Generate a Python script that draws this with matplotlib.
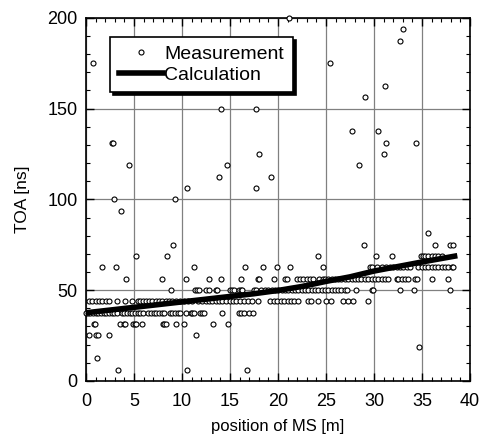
import matplotlib
matplotlib.use("Agg")
import matplotlib.pyplot as plt
import numpy as np

plt.rcParams['font.family'] = ['Liberation Sans', 'DejaVu Sans']

# measured TOA, grouped by level (ns) -> positions (m)
levels = {
    6.25: [3.36, 10.5, 16.8],
    12.5: [1.15],
    18.75: [34.7],
    25.0: [0.3, 1.0, 1.3, 2.4, 11.5],
    31.25: [0.85, 0.95, 3.5, 4.0, 4.1, 4.9, 5.1, 5.25, 5.8, 8.0, 8.15, 8.35,
            9.4, 10.2, 13.2, 14.75],
    37.5: [0.0, 0.17, 0.45, 0.73, 1.01, 1.28, 1.56, 1.84, 2.12, 2.4, 2.67, 2.95,
           3.23, 3.72, 4.01, 4.27, 4.55, 4.83, 5.1, 5.38, 5.66, 5.94, 6.49, 6.77,
           7.05, 7.33, 7.6, 7.88, 8.16, 8.72, 8.99, 9.27, 9.55, 9.83, 10.38,
           10.94, 11.08, 11.22, 11.84, 12.05, 12.26, 14.2, 15.94, 16.2, 16.49,
           16.98, 17.4],
    43.75: [0.31, 0.66, 1.01, 1.35, 1.7, 2.05, 2.4, 3.23, 4.06, 4.76, 5.38, 5.63,
            5.9, 6.25, 6.6, 6.91, 7.26, 7.6, 7.95, 8.3, 8.65, 8.99, 9.41, 9.83,
            10.24, 10.66, 11.08, 11.63, 12.05, 12.47, 12.81, 13.16, 13.51, 13.85,
            14.2, 14.55, 14.97, 15.31, 15.66, 16.08, 16.49, 16.91, 17.26, 17.95,
            19.2, 19.55, 19.9, 20.31, 20.66, 21.01, 21.35, 21.7, 22.05, 23.09,
            23.44, 24.13, 25.0, 25.49, 26.74, 27.26, 27.78, 29.41],
    50.0: [8.9, 11.4, 11.6, 11.8, 12.5, 12.8, 13.5, 13.7, 15.0, 15.2, 15.4, 15.9,
           16.1, 16.3, 17.5, 17.7, 18.2, 18.6, 19.0, 19.34, 19.69, 20.03, 20.38,
           20.73, 21.07, 21.42, 21.77, 22.1, 22.46, 22.8, 23.16, 23.5, 23.85,
           24.2, 24.55, 24.9, 25.24, 25.6, 25.9, 26.3, 26.6, 27.0, 27.2, 28.1,
           29.75, 29.9, 32.7, 34.2, 37.95],
    56.25: [4.2, 7.95, 10.45, 12.8, 14.1, 16.15, 17.9, 18.0, 19.6, 20.73, 20.9,
            21.94, 22.29, 22.6, 23.0, 23.3, 23.61, 24.3, 24.65, 24.9, 25.24,
            25.59, 25.94, 26.3, 26.6, 26.98, 27.3, 27.67, 28.0, 28.37, 28.7,
            29.06, 29.4, 29.75, 30.1, 30.45, 30.8, 31.15, 31.49, 32.4, 32.5,
            32.9, 33.2, 33.58, 34.3, 34.44, 36.0, 37.74],
    62.5: [1.7, 3.1, 11.25, 16.6, 18.4, 19.86, 21.3, 24.7, 29.6, 29.75, 30.3,
           30.8, 31.3, 31.67, 32.0, 32.4, 32.7, 33.06, 33.4, 33.75, 34.6, 34.96,
           35.3, 35.66, 36.0, 36.35, 36.7, 37.05, 37.4, 37.74, 38.09, 38.26],
    68.75: [5.2, 8.4, 24.13, 30.17, 31.84, 34.86, 35.07, 35.3, 35.66, 36.0,
            36.35, 36.7, 37.05],
    75.0: [9.1, 29.0, 36.4, 37.9, 38.2],
    81.25: [35.6],
    93.75: [3.65],
    100.0: [2.95, 9.3],
    106.25: [10.55, 17.7],
    112.5: [13.9, 19.3],
    118.75: [4.45, 14.7, 28.4],
    125.0: [18.05, 31.0],
    131.25: [2.74, 2.8, 31.3, 34.35],
    137.5: [27.7, 30.45],
    150.0: [14.06, 17.7],
    156.25: [29.1],
    162.5: [31.15],
    175.0: [0.7, 25.45],
    187.5: [32.7],
    193.75: [33.0],
    200.0: [21.15],
}

# calculated TOA
calc_x = [0, 2.5, 5, 7.5, 10, 12.5, 15, 17.5, 20, 22.5, 25, 27.5, 30, 32.5, 35, 38.4]
calc_y = [37.5, 39, 40.5, 42, 43.5, 45, 46.5, 48, 49.8, 52, 54.8, 57.3, 60.5, 63, 65.5, 68.7]

meas_x = []
meas_y = []
for lv, xs in levels.items():
    meas_x += xs
    meas_y += [lv] * len(xs)

fig = plt.figure(figsize=(4.83, 4.47), dpi=100)
ax = fig.add_axes([0.178, 0.148, 0.795, 0.812])

ax.grid(True, color='#808080', linewidth=0.9)
ax.set_axisbelow(True)

ax.plot(meas_x, meas_y, 'o', mfc='white', mec='black', ms=3.6, mew=0.8,
        label='Measurement', clip_on=False, zorder=3)
ax.plot(calc_x, calc_y, '-', color='black', lw=4, label='Calculation', zorder=4)

ax.set_xlim(0, 40)
ax.set_ylim(0, 200)
ax.set_xticks(np.arange(0, 41, 5))
ax.set_yticks(np.arange(0, 201, 50))
ax.set_xticks(np.arange(0, 41, 1), minor=True)
ax.set_yticks(np.arange(0, 201, 10), minor=True)
ax.tick_params(which='both', direction='in', top=True, right=True, labelsize=13)
ax.tick_params(which='major', length=6, width=1)
ax.tick_params(which='minor', length=3, width=0.8)
ax.tick_params(axis='x', pad=9)
ax.tick_params(axis='y', pad=6)
for s in ax.spines.values():
    s.set_linewidth(1.2)

ax.set_xlabel('position of MS [m]', fontsize=12)
ax.set_ylabel('TOA [ns]', fontsize=12.5)
ax.xaxis.set_label_coords(0.5, -0.105)
ax.yaxis.set_label_coords(-0.145, 0.5)

leg = ax.legend(loc='upper left', bbox_to_anchor=(0.062, 0.948), borderaxespad=0,
                fancybox=False, shadow={'color': 'black', 'alpha': 1},
                fontsize=14, handlelength=2.3, handletextpad=0.05,
                borderpad=0.45, labelspacing=0.15, framealpha=1)
leg.get_frame().set_edgecolor('black')
leg.get_frame().set_linewidth(1.2)

fig.savefig('out.png', dpi=100)
